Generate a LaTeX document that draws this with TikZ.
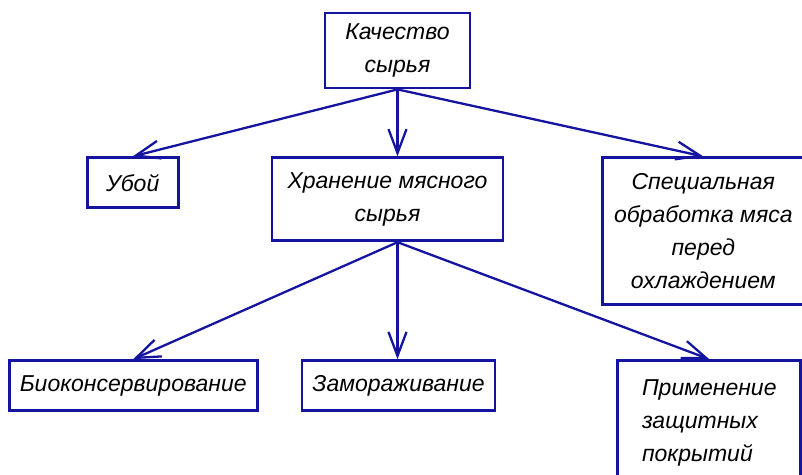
\documentclass[tikz,border=0pt]{standalone}
\usepackage{fontspec}
\setmainfont{Liberation Sans}
\usepackage{tikz}
\usetikzlibrary{arrows.meta, positioning}
\definecolor{gostblue}{HTML}{1414A0}

\begin{document}
\begin{tikzpicture}[
        box/.style={rectangle, draw=gostblue, line width=2.8pt, fill=white, align=center, inner sep=0pt, font=\itshape\fontsize{23}{33}\selectfont},
        arrow/.style={-{Straight Barb[length=24pt, width=18pt]}, draw=gostblue, line width=2.3pt}
    ]
    \useasboundingbox (-397.5pt,50.5pt) rectangle (404.5pt,-423.5pt);

    \node[box, minimum width=145pt, minimum height=75pt] (quality) {Качество\\сырья};
    \node[box, below=67pt of quality, xshift=-10pt, minimum width=231pt, minimum height=83pt] (storage) {Хранение мясного\\сырья};
    \node[box, anchor=north east, minimum width=91pt, minimum height=50pt] (slaughter) at ([xshift=-91pt]storage.north west) {Убой};
    \node[box, anchor=north west, minimum width=201pt, minimum height=147pt] (special) at ([xshift=97pt]storage.north east) {Специальная\\обработка мяса\\перед\\охлаждением};

    \node[box, below=117pt of storage, xshift=11pt, minimum width=193pt, minimum height=50pt] (freeze) {Замораживание};
    \node[box, anchor=north east, minimum width=248pt, minimum height=50pt] (bio) at ([xshift=-42pt]freeze.north west) {Биоконсервирование};
    \node[box, anchor=north west, align=left, minimum width=183pt, minimum height=125pt] (coating) at ([xshift=120pt]freeze.north east) {Применение\\защитных\\покрытий};

    % outlets on the lower edges, both on one vertical
    \coordinate (hub) at (quality.south |- storage.south);

    \draw[arrow] (quality.south) -- (slaughter.north);
    \draw[arrow] (quality.south) -- (quality.south |- storage.north);
    \draw[arrow] (quality.south) -- (special.north);
    \draw[arrow] (hub) -- (bio.north);
    \draw[arrow] (hub) -- (hub |- freeze.north);
    \draw[arrow] (hub) -- (coating.north);
\end{tikzpicture}
\end{document}
